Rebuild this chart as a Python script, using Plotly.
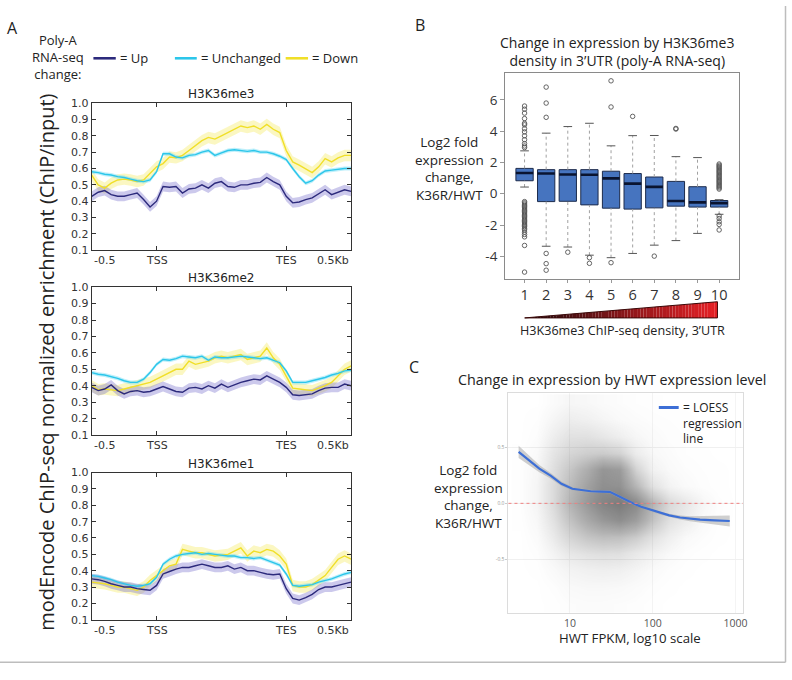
import math
import plotly.graph_objects as go

W, H = 792, 680
SANS = "Open Sans"
MPL = "DejaVu Sans"

# ---------------- Panel A data (metagene profiles) ----------------
# x positions: 0 = -0.5 kb, 1 = TSS, 3 = TES, 4 = +0.5 kb
POS = [0.0, 0.1, 0.2, 0.3, 0.4, 0.5, 0.6, 0.7, 0.8, 0.9, 1.0, 1.1, 1.2, 1.3, 1.4,
       1.5, 1.6, 1.7, 1.8, 1.9, 2.0, 2.1, 2.2, 2.3, 2.4, 2.5, 2.6, 2.7, 2.8, 2.9,
       3.0, 3.1, 3.2, 3.3, 3.4, 3.5, 3.6, 3.7, 3.8, 3.9, 4.0]
A_TICK_LABELS = ["-0.5", "TSS", "TES", "0.5Kb"]
A_TICK_POS = [0, 1, 3, 4]
A_Y_TICKS = [0.1, 0.2, 0.3, 0.4, 0.5, 0.6, 0.7, 0.8, 0.9, 1.0]

ME3_UP = [0.43, 0.455, 0.465, 0.44, 0.43, 0.43, 0.44, 0.45, 0.41, 0.365, 0.40, 0.49, 0.485, 0.49,
          0.45, 0.475, 0.48, 0.50, 0.48, 0.51, 0.52, 0.49, 0.485, 0.50, 0.50, 0.51, 0.515, 0.545,
          0.52, 0.50, 0.43, 0.39, 0.395, 0.41, 0.42, 0.445, 0.47, 0.44, 0.455, 0.47, 0.46]
ME3_UNCH = [0.58, 0.575, 0.565, 0.56, 0.55, 0.545, 0.535, 0.525, 0.52, 0.53, 0.58, 0.69, 0.69, 0.67,
            0.665, 0.68, 0.685, 0.70, 0.71, 0.68, 0.695, 0.71, 0.715, 0.71, 0.705, 0.71, 0.70, 0.70,
            0.69, 0.675, 0.655, 0.60, 0.55, 0.51, 0.525, 0.56, 0.585, 0.59, 0.595, 0.60, 0.60]
ME3_DOWN = [0.56, 0.50, 0.48, 0.51, 0.53, 0.535, 0.53, 0.52, 0.53, 0.57, 0.61, 0.63, 0.67, 0.665,
            0.68, 0.71, 0.74, 0.77, 0.79, 0.78, 0.80, 0.82, 0.84, 0.86, 0.85, 0.86, 0.84, 0.87,
            0.84, 0.82, 0.71, 0.64, 0.62, 0.60, 0.575, 0.61, 0.66, 0.64, 0.665, 0.68, 0.68]

ME2_UP = [0.39, 0.37, 0.38, 0.405, 0.37, 0.35, 0.365, 0.37, 0.36, 0.365, 0.38, 0.395, 0.38, 0.365,
          0.36, 0.385, 0.39, 0.38, 0.40, 0.385, 0.41, 0.39, 0.405, 0.42, 0.43, 0.44, 0.435, 0.46,
          0.44, 0.42, 0.39, 0.345, 0.34, 0.345, 0.35, 0.37, 0.385, 0.39, 0.39, 0.41, 0.40]
ME2_UNCH = [0.48, 0.47, 0.465, 0.455, 0.445, 0.43, 0.42, 0.42, 0.44, 0.48, 0.53, 0.56, 0.555, 0.565,
            0.58, 0.575, 0.57, 0.58, 0.555, 0.575, 0.57, 0.57, 0.575, 0.58, 0.575, 0.57, 0.565, 0.57,
            0.555, 0.54, 0.49, 0.42, 0.42, 0.42, 0.43, 0.44, 0.45, 0.465, 0.475, 0.49, 0.495]
ME2_DOWN = [0.40, 0.375, 0.38, 0.375, 0.37, 0.38, 0.39, 0.40, 0.41, 0.42, 0.44, 0.46, 0.48, 0.50,
            0.50, 0.55, 0.53, 0.54, 0.55, 0.57, 0.58, 0.57, 0.58, 0.59, 0.56, 0.57, 0.58, 0.63,
            0.57, 0.53, 0.46, 0.385, 0.38, 0.375, 0.37, 0.385, 0.40, 0.42, 0.46, 0.50, 0.52]

ME1_UP = [0.35, 0.345, 0.335, 0.32, 0.31, 0.30, 0.30, 0.29, 0.285, 0.28, 0.31, 0.38, 0.395, 0.41,
          0.42, 0.42, 0.43, 0.44, 0.43, 0.42, 0.42, 0.43, 0.41, 0.42, 0.40, 0.40, 0.39, 0.38,
          0.375, 0.38, 0.29, 0.23, 0.22, 0.235, 0.255, 0.285, 0.30, 0.30, 0.31, 0.32, 0.33]
ME1_UNCH = [0.37, 0.365, 0.355, 0.345, 0.33, 0.32, 0.31, 0.305, 0.31, 0.32, 0.36, 0.44, 0.47, 0.49,
            0.50, 0.505, 0.51, 0.50, 0.505, 0.50, 0.495, 0.49, 0.49, 0.48, 0.48, 0.475, 0.48, 0.465,
            0.45, 0.435, 0.38, 0.31, 0.305, 0.31, 0.315, 0.33, 0.34, 0.35, 0.365, 0.38, 0.39]
ME1_DOWN = [0.33, 0.325, 0.32, 0.31, 0.30, 0.30, 0.29, 0.28, 0.30, 0.34, 0.37, 0.40, 0.43, 0.44,
            0.53, 0.52, 0.51, 0.51, 0.50, 0.49, 0.495, 0.50, 0.52, 0.54, 0.49, 0.52, 0.51, 0.53,
            0.52, 0.49, 0.44, 0.31, 0.30, 0.30, 0.315, 0.34, 0.37, 0.42, 0.47, 0.49, 0.47]

# half-width of the shaded error bands
BAND_UP, BAND_UNCH, BAND_DOWN = 0.03, 0.012, 0.035
A_TITLES = ["H3K36me3", "H3K36me2", "H3K36me1"]

# ---------------- Panel B data (box plot) ----------------
DECILES = [1, 2, 3, 4, 5, 6, 7, 8, 9, 10]
BOX_Q1 = [0.83, -0.50, -0.48, -0.71, -0.92, -0.98, -0.90, -0.79, -0.85, -0.85]
BOX_MED = [1.33, 1.29, 1.23, 1.21, 0.98, 0.65, 0.44, -0.46, -0.55, -0.60]
BOX_Q3 = [1.62, 1.54, 1.54, 1.54, 1.44, 1.29, 1.07, 0.79, 0.45, -0.43]
WHISK_LO = [0.43, -3.35, -3.40, -3.92, -4.08, -3.81, -3.28, -2.99, -2.53, -1.31]
WHISK_HI = [2.74, 3.87, 4.29, 4.50, 3.06, 3.71, 3.72, 2.37, 2.31, -0.38]
OUTLIERS = [
    [2.95, 3.05, 3.2, 3.45, 3.7, 3.95, 4.15, 4.4, 4.5, 4.8, 5.15, 5.4, 5.6,
     -0.5, -0.58, -0.66, -0.74, -0.82, -0.9, -0.98, -1.06, -1.14, -1.22, -1.3, -1.38, -1.46,
     -1.54, -1.62, -1.7, -1.78, -1.86, -1.94, -2.02, -2.1, -2.2, -2.3, -2.45, -2.6, -2.75,
     -3.3, -5.0],
    [6.81, 5.79, 4.88, -3.81, -4.46, -4.88],
    [-3.73],
    [-4.08, -4.44],
    [7.21, 5.54, -4.40],
    [4.94],
    [-3.98],
    [4.13, 4.17],
    [],
    [0.3, 0.38, 0.46, 0.54, 0.62, 0.7, 0.78, 0.86, 0.94, 1.02, 1.1, 1.18, 1.26, 1.34, 1.42,
     1.5, 1.58, 1.66, 1.74, 1.82, 1.9, -1.42, -1.58, -1.79, -1.96, -2.31],
]
B_Y_TICKS = [-4, -2, 0, 2, 4, 6]

# ---------------- Panel C data (scatter density + LOESS) ----------------
DENS_FPKM = [2.5, 4, 6.3, 10, 16, 25, 40, 63, 100, 160, 250, 400, 630, 1000]
DENS_LFC = [0.9, 0.75, 0.6, 0.45, 0.3, 0.15, 0.0, -0.15, -0.3, -0.45, -0.6, -0.75, -0.9]
DENSITY = [
    [0, 0, 0.3, 0.6, 0.5, 0.3, 0.2, 0.1, 0.05, 0, 0, 0, 0, 0],
    [0, 0.1, 0.7, 1.2, 1.0, 0.7, 0.4, 0.25, 0.15, 0.1, 0.05, 0, 0, 0],
    [0, 0.2, 1.2, 2.0, 2.0, 1.6, 1.1, 0.6, 0.3, 0.15, 0.1, 0, 0, 0],
    [0.05, 0.4, 1.8, 2.8, 3.3, 3.5, 3.0, 1.3, 0.5, 0.25, 0.1, 0.05, 0, 0],
    [0.1, 0.6, 2.2, 3.8, 5.5, 7.5, 7.0, 3.0, 0.9, 0.4, 0.2, 0.1, 0.05, 0],
    [0.1, 0.7, 2.5, 4.5, 6.5, 8.0, 7.8, 5.0, 2.0, 0.8, 0.35, 0.15, 0.05, 0],
    [0.1, 0.7, 2.5, 5.0, 7.2, 9.0, 10.0, 8.5, 5.0, 2.5, 1.6, 0.6, 0.15, 0],
    [0.05, 0.5, 2.0, 4.0, 5.8, 7.2, 8.0, 6.8, 4.0, 2.0, 1.2, 0.4, 0.1, 0],
    [0, 0.3, 1.4, 2.8, 3.8, 4.3, 4.2, 3.4, 2.0, 1.0, 0.4, 0.2, 0.05, 0],
    [0, 0.15, 0.8, 1.6, 2.0, 2.2, 2.1, 1.5, 0.9, 0.4, 0.15, 0.05, 0, 0],
    [0, 0.05, 0.4, 0.8, 1.0, 1.1, 1.0, 0.7, 0.35, 0.15, 0.05, 0, 0, 0],
    [0, 0, 0.15, 0.4, 0.5, 0.5, 0.45, 0.3, 0.15, 0.05, 0, 0, 0, 0],
    [0, 0, 0.05, 0.2, 0.25, 0.25, 0.2, 0.15, 0.05, 0, 0, 0, 0, 0],
]
LOESS_FPKM = [2.4, 3.16, 4.27, 5.9, 7.9, 10.7, 13.5, 17.8, 23.4, 30.2, 36.3, 45.7, 57.5, 72.4,
              91.2, 120, 158, 214, 282, 372, 562, 851]
LOESS_LFC = [0.46, 0.385, 0.31, 0.245, 0.175, 0.13, 0.12, 0.108, 0.105, 0.103, 0.075, 0.035, 0.0,
             -0.03, -0.055, -0.085, -0.108, -0.127, -0.138, -0.145, -0.152, -0.158]
LOESS_SE = [0.055, 0.045, 0.033, 0.025, 0.02, 0.016, 0.014, 0.013, 0.013, 0.013, 0.013, 0.013,
            0.012, 0.012, 0.012, 0.013, 0.015, 0.018, 0.022, 0.03, 0.04, 0.05]
C_X_TICKS = [10, 100, 1000]
C_Y_TICKS = [-0.5, 0.0, 0.5]
C_X_RANGE_FPKM = [1.81, 1230]

# ---------------- styling ----------------
PURP, PURP_F = "#2c2a7c", "rgba(120,112,205,0.38)"
CYAN, CYAN_F = "#2cc6ea", "rgba(110,220,245,0.45)"
YEL, YEL_F = "#f0df28", "rgba(246,238,120,0.45)"
BOX_FILL, BOX_LINE, MED_COL = "#4674bf", "#1c2b4c", "#0a1430"
LOESS_COL = "#3d6fd6"


def X(p):
    return p / W


def Y(p):
    return 1 - p / H


def lg(values):
    # log10 transform for panel C's log-scaled FPKM axis
    return [math.log10(v) for v in values]


fig = go.Figure()

# ---------------- Panel A ----------------
A_SETS = [(ME3_UP, ME3_UNCH, ME3_DOWN), (ME2_UP, ME2_UNCH, ME2_DOWN), (ME1_UP, ME1_UNCH, ME1_DOWN)]
A_YDOM = [(99, 249), (286.7, 437.3), (475.7, 625.7)]
for k, (up, un, dn) in enumerate(A_SETS):
    xa = "x" if k == 0 else f"x{k + 1}"
    ya = "y" if k == 0 else f"y{k + 1}"
    series = [(dn, YEL, YEL_F, BAND_DOWN), (un, CYAN, CYAN_F, BAND_UNCH), (up, PURP, PURP_F, BAND_UP)]
    for vals, col, fc, hw in series:
        upper = [v + hw for v in vals]
        lower = [v - hw for v in vals]
        fig.add_trace(go.Scatter(x=POS + POS[::-1], y=upper + lower[::-1], fill="toself",
                                 fillcolor=fc, line=dict(width=0), mode="lines",
                                 xaxis=xa, yaxis=ya, hoverinfo="skip", showlegend=False))
    for vals, col, fc, hw in series:
        fig.add_trace(go.Scatter(x=POS, y=vals, mode="lines", line=dict(color=col, width=1.4),
                                 xaxis=xa, yaxis=ya, showlegend=False))

# ---------------- Panel B ----------------
fig.add_trace(go.Bar(x=DECILES, y=[q3 - q1 for q1, q3 in zip(BOX_Q1, BOX_Q3)], base=BOX_Q1,
                     width=0.8, marker=dict(color=BOX_FILL, line=dict(color=BOX_LINE, width=1)),
                     xaxis="x4", yaxis="y4", showlegend=False))
wx, wy, cx, cy, mx, my = [], [], [], [], [], []
for d, lo, q1, med, q3, hi in zip(DECILES, WHISK_LO, BOX_Q1, BOX_MED, BOX_Q3, WHISK_HI):
    wx += [d, d, None, d, d, None]
    wy += [lo, q1, None, q3, hi, None]
    cx += [d - 0.2, d + 0.2, None, d - 0.2, d + 0.2, None]
    cy += [lo, lo, None, hi, hi, None]
    mx += [d - 0.4, d + 0.4, None]
    my += [med, med, None]
fig.add_trace(go.Scatter(x=wx, y=wy, mode="lines", line=dict(color="#a0a0a0", width=1, dash="dot"),
                         xaxis="x4", yaxis="y4", showlegend=False))
fig.add_trace(go.Scatter(x=cx, y=cy, mode="lines", line=dict(color="#555", width=1),
                         xaxis="x4", yaxis="y4", showlegend=False))
fig.add_trace(go.Scatter(x=mx, y=my, mode="lines", line=dict(color=MED_COL, width=2.6),
                         xaxis="x4", yaxis="y4", showlegend=False))
ox, oy = [], []
for d, outs in zip(DECILES, OUTLIERS):
    ox += [d] * len(outs)
    oy += outs
fig.add_trace(go.Scatter(x=ox, y=oy, mode="markers",
                         marker=dict(symbol="circle-open", size=4.5, color="#555", line=dict(width=0.9)),
                         xaxis="x4", yaxis="y4", showlegend=False))

# ---------------- Panel C ----------------
GRAY = "105,105,105"
fig.add_trace(go.Heatmap(x=lg(DENS_FPKM), y=DENS_LFC, z=DENSITY, zsmooth="best", showscale=False,
                         zmin=0, zmax=10, hoverinfo="skip",
                         colorscale=[[0, f"rgba({GRAY},0)"], [0.03, f"rgba({GRAY},0.03)"],
                                     [0.1, f"rgba({GRAY},0.1)"], [0.2, f"rgba({GRAY},0.2)"],
                                     [0.5, f"rgba({GRAY},0.5)"], [0.8, f"rgba({GRAY},0.75)"],
                                     [1, f"rgba({GRAY},0.88)"]],
                         xaxis="x5", yaxis="y5"))
up_r = [v + s for v, s in zip(LOESS_LFC, LOESS_SE)]
lo_r = [v - s for v, s in zip(LOESS_LFC, LOESS_SE)]
lx = lg(LOESS_FPKM)
fig.add_trace(go.Scatter(x=lx + lx[::-1], y=up_r + lo_r[::-1], fill="toself",
                         fillcolor="rgba(175,175,175,0.6)", line=dict(width=0), mode="lines",
                         xaxis="x5", yaxis="y5", hoverinfo="skip", showlegend=False))
fig.add_trace(go.Scatter(x=lx, y=LOESS_LFC, mode="lines", line=dict(color=LOESS_COL, width=2.2),
                         xaxis="x5", yaxis="y5", showlegend=False))

# ---------------- axes ----------------
layout = dict(width=W, height=H, margin=dict(l=0, r=0, t=0, b=0), paper_bgcolor="white",
              plot_bgcolor="rgba(0,0,0,0)", showlegend=False)
for k, (t, b) in enumerate(A_YDOM):
    sx = "" if k == 0 else str(k + 1)
    layout["xaxis" + sx] = dict(domain=[X(92.3), X(353.3)], range=[0, 4], anchor="y" + sx,
                                showgrid=False, zeroline=False, showline=True, mirror="ticks",
                                linecolor="#333", linewidth=1.2, ticks="inside", ticklen=4,
                                tickcolor="#333", tickvals=[1, 3], showticklabels=False)
    layout["yaxis" + sx] = dict(domain=[Y(b), Y(t)], range=[0.1, 1.0], anchor="x" + sx,
                                showgrid=False, zeroline=False, showline=True, mirror="ticks",
                                linecolor="#333", linewidth=1.2, ticks="inside", ticklen=4,
                                tickcolor="#333", tickvals=A_Y_TICKS,
                                ticktext=[f"{v:.1f}" for v in A_Y_TICKS],
                                tickfont=dict(family=MPL, size=11, color="#333"))
layout["xaxis4"] = dict(domain=[X(508.3), X(743.3)], range=[0.1, 10.9], anchor="y4",
                        tickvals=DECILES, ticktext=[str(d) for d in DECILES], ticks="outside",
                        ticklen=3, tickcolor="#999", showgrid=False, zeroline=False, showline=True,
                        mirror=True, linecolor="#8a8a8a", linewidth=1,
                        tickfont=dict(family=SANS, size=14.5, color="#333"))
layout["yaxis4"] = dict(domain=[Y(278.3), Y(68.3)], range=[-5.44, 7.71], anchor="x4",
                        tickvals=B_Y_TICKS, ticktext=[str(v) for v in B_Y_TICKS], ticks="outside",
                        ticklen=4, tickcolor="#999", showgrid=False, zeroline=False, showline=True,
                        mirror=True, linecolor="#8a8a8a", linewidth=1,
                        tickfont=dict(family=SANS, size=13.5, color="#333"))
layout["xaxis5"] = dict(domain=[X(511.7), X(747.7)], range=lg(C_X_RANGE_FPKM), anchor="y5",
                        tickvals=lg(C_X_TICKS), ticktext=[str(v) for v in C_X_TICKS], ticks="",
                        showgrid=True, gridcolor="#f4f4f4",
                        zeroline=False, showline=True, mirror=True, linecolor="#dcdcdc", linewidth=1,
                        tickfont=dict(family=SANS, size=10.5, color="#555"))
layout["yaxis5"] = dict(domain=[Y(619.3), Y(394.3)], range=[-0.985, 0.989], anchor="x5",
                        tickvals=C_Y_TICKS, ticktext=[f"{v:.1f}" for v in C_Y_TICKS], ticks="outside",
                        ticklen=2, tickcolor="#ccc", showgrid=True, gridcolor="#f0f0f0",
                        zeroline=False, showline=True, mirror=True, linecolor="#dcdcdc", linewidth=1,
                        tickfont=dict(family=SANS, size=5, color="#999"))
fig.update_layout(**layout)

shapes = []
# red dotted zero line in C
shapes.append(dict(type="line", xref="x5 domain", yref="y5", x0=0, x1=1, y0=0, y1=0,
                   line=dict(color="#f08080", width=1, dash="dot")))
# legend swatches
for x0, x1, col in [(94, 116.5, PURP), (176, 198, CYAN), (287.5, 310, YEL)]:
    shapes.append(dict(type="line", xref="paper", yref="paper", x0=X(x0), x1=X(x1), y0=Y(53.3),
                       y1=Y(53.3), line=dict(color=col, width=2.6)))
shapes.append(dict(type="line", xref="paper", yref="paper", x0=X(663), x1=X(683), y0=Y(409.3),
                   y1=Y(409.3), line=dict(color=LOESS_COL, width=3)))
# gradient triangle under panel B
TL, TR, TB, TT = 528, 722, 318, 301.5
N = 60
for i in range(N):
    xa0 = TL + (TR - TL) * i / N
    xa1 = TL + (TR - TL) * (i + 1) / N
    ya0 = TB - (TB - TT) * i / N
    ya1 = TB - (TB - TT) * (i + 1) / N
    t = ((i + 0.5) / N) ** 0.85
    col = f"rgb({int(15 + t * 215)},{int(10 + t * 22)},{int(12 + t * 25)})"
    shapes.append(dict(type="path", xref="paper", yref="paper",
                       path=f"M {X(xa0)},{Y(TB)} L {X(xa0)},{Y(ya0)} L {X(xa1)},{Y(ya1)} L {X(xa1)},{Y(TB)} Z",
                       fillcolor=col, line=dict(width=0)))
shapes.append(dict(type="path", xref="paper", yref="paper",
                   path=f"M {X(TL)},{Y(TB)} L {X(TR)},{Y(TT)} L {X(TR)},{Y(TB)} Z",
                   line=dict(color="#3a0808", width=1)))
# outer frame lines
shapes.append(dict(type="line", xref="paper", yref="paper", x0=0, x1=X(790.5), y0=Y(669), y1=Y(669),
                   line=dict(color="#bdbdbd", width=1.5)))
shapes.append(dict(type="line", xref="paper", yref="paper", x0=X(790.5), x1=X(790.5), y0=Y(669), y1=1,
                   line=dict(color="#bdbdbd", width=1.5)))
fig.update_layout(shapes=shapes)


def txt(s, x, y, size, anchor="center", family=SANS, color="#222", **kw):
    fig.add_annotation(text=s, x=X(x), y=Y(y), xref="paper", yref="paper", xanchor=anchor,
                       yanchor="middle", showarrow=False,
                       align=kw.pop("align", anchor if anchor != "center" else "center"),
                       font=dict(family=family, size=size, color=color), **kw)


# Panel A texts
txt("A", 13, 22, 16)
txt("Poly-A<br>RNA-seq<br>change:", 58, 52.5, 13)
txt("= Up", 118.5, 53, 13, anchor="left")
txt("= Unchanged", 200, 53, 13, anchor="left")
txt("= Down", 311.5, 53, 13, anchor="left")
txt("modEncode ChIP-seq normalized enrichment (ChIP/input)", 46, 363, 20, textangle=-90)
for k, title in enumerate(A_TITLES):
    sx = "" if k == 0 else str(k + 1)
    fig.add_annotation(text=title, xref=f"x{sx} domain", yref=f"y{sx} domain", x=0.5, y=1,
                       yanchor="middle", yshift=9, showarrow=False,
                       font=dict(family=MPL, size=12, color="#222"))
    for pos, lab in zip(A_TICK_POS, A_TICK_LABELS):
        anc = "left" if pos == A_TICK_POS[0] else ("right" if pos == A_TICK_POS[-1] else "center")
        fig.add_annotation(text=lab, xref="x" + sx, yref=f"y{sx} domain", x=pos, y=0,
                           xanchor=anc, yanchor="top", yshift=-2, showarrow=False,
                           font=dict(family=MPL, size=11, color="#333"))

# Panel B texts
txt("B", 423, 19, 16)
txt("Change in expression by H3K36me3<br>density in 3’UTR (poly-A RNA-seq)", 621, 46.5, 14)
txt("Log2 fold<br>expression<br>change,<br>K36R/HWT", 452, 166, 13.5)
txt("H3K36me3 ChIP-seq density, 3’UTR", 626, 331, 12.6)

# Panel C texts
txt("C", 417, 368, 16)
txt("Change in expression by HWT expression level", 616, 381, 14.3)
txt("Log2 fold<br>expression<br>change,<br>K36R/HWT", 471, 500, 13.5)
txt("HWT FPKM, log10 scale", 633.5, 644, 13.2)
txt("= LOESS<br>regression<br>line", 685, 425, 12, anchor="left")

fig.write_html("out.html")
